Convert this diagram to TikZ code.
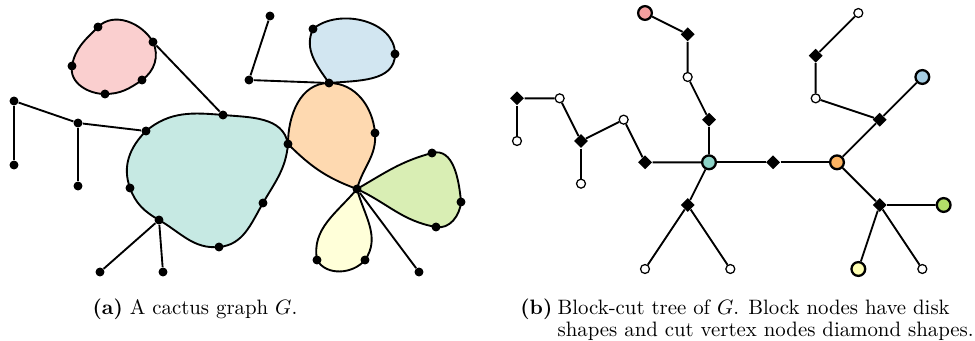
\documentclass[tikz,border=0pt]{standalone}
\usetikzlibrary{shapes.geometric,backgrounds}

\definecolor{pinkc}{HTML}{F4A0A0}
\definecolor{tealc}{HTML}{8DD3C7}
\definecolor{bluec}{HTML}{A6CEE3}
\definecolor{orangec}{HTML}{FDB462}
\definecolor{greenc}{HTML}{B3DE69}
\definecolor{yellowc}{HTML}{FFFFB3}

\begin{document}
\begin{tikzpicture}[
    x=0.48pt, y=0.48pt,
    edge/.style={line width=0.9pt},
    cyc/.style={line width=0.9pt, line join=round},
    vtx/.style={circle, fill, inner sep=0pt, minimum size=4.3pt},
    blk/.style={circle, draw, line width=1.1pt, inner sep=0pt, minimum size=6.6pt},
    cutv/.style={diamond, fill, inner sep=0pt, minimum size=6.8pt},
    leaf/.style={circle, draw, fill=white, line width=0.6pt, inner sep=0pt, minimum size=4.3pt}
  ]
    \useasboundingbox (0,0) rectangle (975,340);

    % (a) cactus graph
    \node[vtx] (p1) at (98,313) {};
    \node[vtx] (p2) at (72,274) {};
    \node[vtx] (p3) at (105,246) {};
    \node[vtx] (p4) at (142,260) {};
    \node[vtx] (p5) at (153,298) {};
    \node[vtx] (t1) at (146,209) {};
    \node[vtx] (t2) at (223,225) {};
    \node[vtx] (jt) at (288,196) {};
    \node[vtx] (t4) at (263,137) {};
    \node[vtx] (t5) at (219,93) {};
    \node[vtx] (t6) at (159,120) {};
    \node[vtx] (t7) at (130,152) {};
    \node[vtx] (jb) at (329,257) {};
    \node[vtx] (o2) at (375,207) {};
    \node[vtx] (hub) at (357,151) {};
    \node[vtx] (b2) at (313,311) {};
    \node[vtx] (b3) at (395,286) {};
    \node[vtx] (g2) at (432,187) {};
    \node[vtx] (g3) at (461,138) {};
    \node[vtx] (g4) at (436,113) {};
    \node[vtx] (y2) at (365,80) {};
    \node[vtx] (y3) at (317,80) {};
    \node[vtx] (l1) at (14,239) {};
    \node[vtx] (l2) at (78,217) {};
    \node[vtx] (l3) at (14,175) {};
    \node[vtx] (l4) at (78,154) {};
    \node[vtx] (d1) at (100,68) {};
    \node[vtx] (d2) at (163,68) {};
    \node[vtx] (u1) at (270,324) {};
    \node[vtx] (u2) at (249,260) {};
    \node[vtx] (r1) at (419,68) {};

    \begin{pgfonlayer}{background}
    \draw[cyc, fill=pinkc!50!white] (p1.center) to[out=45,in=120] (p5.center) to[out=-65,in=35] (p4.center)
      to[out=-145,in=0] (p3.center) to[out=180,in=-100] (p2.center) to[out=80,in=-135] (p1.center) -- cycle;
    \draw[cyc, fill=tealc!50!white] (t1.center) to[out=40,in=175] (t2.center) to[out=-5,in=100] (jt.center)
      to[out=-95,in=60] (t4.center) to[out=-120,in=5] (t5.center) to[out=185,in=-30] (t6.center)
      to[out=150,in=-70] (t7.center) to[out=110,in=-135] (t1.center) -- cycle;
    \draw[cyc, fill=orangec!50!white] (jb.center) to[out=0,in=95] (o2.center) to[out=-85,in=75] (hub.center)
      to[out=160,in=-45] (jt.center) to[out=90,in=180] (jb.center) -- cycle;
    \draw[cyc, fill=bluec!50!white] (jb.center) to[out=125,in=-115] (b2.center) to[out=40,in=90] (b3.center)
      to[out=-90,in=5] (jb.center) -- cycle;
    \draw[cyc, fill=greenc!50!white] (hub.center) to[out=30,in=-165] (g2.center) to[out=15,in=95] (g3.center)
      to[out=-95,in=-10] (g4.center) to[out=170,in=-25] (hub.center) -- cycle;
    \draw[cyc, fill=yellowc!50!white] (hub.center) to[out=-75,in=55] (y2.center) to[out=-130,in=-60] (y3.center)
      to[out=100,in=-130] (hub.center) -- cycle;

    \draw[edge] (p5) -- (t2);
    \draw[edge] (l1) -- (l2) -- (t1);
    \draw[edge] (l1) -- (l3);
    \draw[edge] (l2) -- (l4);
    \draw[edge] (t6) -- (d1);
    \draw[edge] (t6) -- (d2);
    \draw[edge] (u1) -- (u2) -- (jb);
    \draw[edge] (hub) -- (r1);
    \end{pgfonlayer}

    % (b) block-cut tree
    \begin{scope}[shift={(517,327)}, x=10.24pt, y=-10.24pt]
    \node[blk, fill=pinkc] (bpink) at (6,0) {};
    \node[cutv] (c1) at (8,1) {};
    \node[leaf] (e1) at (8,3) {};
    \node[cutv] (c2) at (9,5) {};
    \node[blk, fill=tealc] (bteal) at (9,7) {};
    \node[cutv] (c3) at (0,4) {};
    \node[leaf] (e2) at (2,4) {};
    \node[leaf] (e3) at (0,6) {};
    \node[cutv] (c4) at (3,6) {};
    \node[leaf] (e4) at (5,5) {};
    \node[leaf] (e5) at (3,8) {};
    \node[cutv] (c5) at (6,7) {};
    \node[cutv] (c6) at (12,7) {};
    \node[blk, fill=orangec] (borange) at (15,7) {};
    \node[cutv] (c7) at (8,9) {};
    \node[leaf] (e6) at (6,12) {};
    \node[leaf] (e7) at (10,12) {};
    \node[cutv] (c8) at (17,5) {};
    \node[blk, fill=bluec] (bblue) at (19,3) {};
    \node[leaf] (e8) at (14,4) {};
    \node[cutv] (c9) at (14,2) {};
    \node[leaf] (e9) at (16,0) {};
    \node[cutv] (c10) at (17,9) {};
    \node[blk, fill=greenc] (bgreen) at (20,9) {};
    \node[blk, fill=yellowc] (byellow) at (16,12) {};
    \node[leaf] (e10) at (19,12) {};
    \end{scope}

    \begin{pgfonlayer}{background}
    \draw[edge] (bpink) -- (c1) -- (e1) -- (c2) -- (bteal);
    \draw[edge] (c3) -- (e2) -- (c4) -- (e4) -- (c5) -- (bteal);
    \draw[edge] (c3) -- (e3);
    \draw[edge] (c4) -- (e5);
    \draw[edge] (bteal) -- (c6) -- (borange);
    \draw[edge] (bteal) -- (c7);
    \draw[edge] (c7) -- (e6);
    \draw[edge] (c7) -- (e7);
    \draw[edge] (borange) -- (c8) -- (bblue);
    \draw[edge] (c8) -- (e8) -- (c9) -- (e9);
    \draw[edge] (borange) -- (c10) -- (bgreen);
    \draw[edge] (c10) -- (byellow);
    \draw[edge] (c10) -- (e10);
    \end{pgfonlayer}

    \node[anchor=base, inner sep=0pt] (capa) at (195,26) {\textbf{(a)} A cactus graph $G$.};
    \node[anchor=base west, inner sep=0pt] (capb) at (520,26) {\renewcommand{\arraystretch}{0.88}%
      \begin{tabular}[t]{@{}l@{\hspace{2.5pt}}l@{}}
      \textbf{(b)} & Block-cut tree of $G$. Block nodes have disk\\
      & shapes and cut vertex nodes diamond shapes.
    \end{tabular}};
\end{tikzpicture}
\end{document}
